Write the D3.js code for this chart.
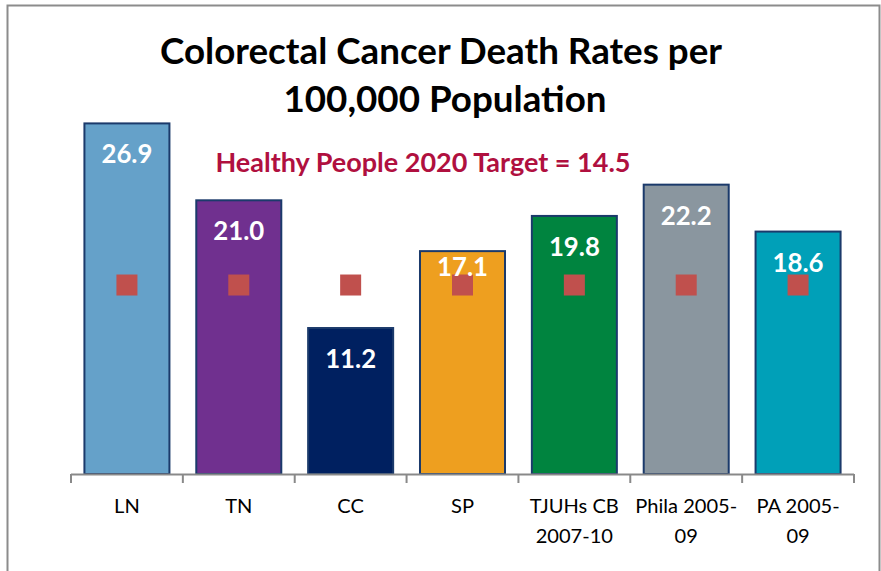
<!DOCTYPE html>
<html><head><meta charset="utf-8">
<script src="https://cdn.jsdelivr.net/npm/d3@7"></script>
<style>html,body{margin:0;padding:0;background:#fff;} svg{display:block;font-family:Lato,"Open Sans",sans-serif;}</style>
</head><body>
<script>
const categories = ["LN", "TN", "CC", "SP", "TJUHs CB 2007-10", "Phila 2005-09", "PA 2005-09"];
const labelLines = [["LN"], ["TN"], ["CC"], ["SP"], ["TJUHs CB", "2007-10"], ["Phila 2005-", "09"], ["PA 2005-", "09"]];
const values = [26.9, 21.0, 11.2, 17.1, 19.8, 22.2, 18.6];
const target = [14.5, 14.5, 14.5, 14.5, 14.5, 14.5, 14.5];
const colors = ["#65A1C9", "#70308F", "#002060", "#EE9F1F", "#00843F", "#8A969F", "#00A0B8"];
const titleLines = ["Colorectal Cancer Death Rates per", "100,000 Population"];
const targetText = "Healthy People 2020 Target = 14.5";

const W = 881, H = 571;
const svg = d3.select("body").append("svg").attr("width", W).attr("height", H);

// outer frame (no bottom edge visible)
svg.append("path").attr("d", "M7.5,571 V5.5 H879.5 V571")
  .attr("fill", "none").attr("stroke", "#8C8C8C").attr("stroke-width", 2);

const x = d3.scaleBand().domain(categories).range([71, 854]).padding(0);
const y = d3.scaleLinear().domain([0, 30]).range([474, 83]);
const bw = x.bandwidth();

function fit(sel, targetW) {
  const node = sel.node();
  const fs = parseFloat(sel.attr("font-size"));
  const w = node.getComputedTextLength();
  sel.attr("font-size", (fs * targetW / w).toFixed(2));
  return sel;
}

// bars
svg.selectAll("rect.bar").data(values).join("rect").attr("class", "bar")
  .attr("x", (d, i) => x(categories[i]) + bw * 0.12)
  .attr("width", bw * 0.76)
  .attr("y", d => y(d))
  .attr("height", d => y(0) - y(d))
  .attr("fill", (d, i) => colors[i])
  .attr("stroke", "#1B3A6B").attr("stroke-width", 2);

// target markers
const ms = 21;
svg.selectAll("rect.mk").data(target).join("rect").attr("class", "mk")
  .attr("x", (d, i) => x(categories[i]) + bw / 2 - ms / 2)
  .attr("y", d => y(d) - ms / 2)
  .attr("width", ms).attr("height", ms)
  .attr("fill", "#C0504D");

// value labels
const vl = svg.selectAll("text.val").data(values).join("text").attr("class", "val")
  .attr("x", (d, i) => x(categories[i]) + bw / 2)
  .attr("y", (d, i) => y(d) + (i === 3 ? 25 : 40))
  .attr("text-anchor", "middle").attr("fill", "#fff").attr("font-weight", "bold")
  .attr("font-size", 25)
  .text(d => d.toFixed(1));
// scale value label font to match reference width of "11.2" (~51px)
{
  const probe = svg.append("text").attr("font-weight", "bold").attr("font-size", 25).text("11.2");
  const w = probe.node().getComputedTextLength();
  probe.remove();
  vl.attr("font-size", (25 * 51 / w).toFixed(2));
}

// axis
const axis = svg.append("g");
axis.append("line").attr("x1", 71).attr("x2", 854).attr("y1", 474.5).attr("y2", 474.5)
  .attr("stroke", "#898989").attr("stroke-width", 2);
const tickPos = categories.map(c => x(c)).concat([x(categories[categories.length - 1]) + bw]);
axis.selectAll("line.tk").data(tickPos).join("line").attr("class", "tk")
  .attr("x1", d => d).attr("x2", d => d).attr("y1", 474).attr("y2", 483)
  .attr("stroke", "#898989").attr("stroke-width", 2);

// category labels
let catFs = 20;
{
  const probe = svg.append("text").attr("font-size", 20).text("TJUHs CB");
  const w = probe.node().getComputedTextLength();
  probe.remove();
  catFs = 20 * 89 / w;
}
labelLines.forEach((lines, i) => {
  const t = svg.append("text").attr("text-anchor", "middle").attr("fill", "#000")
    .attr("font-size", catFs.toFixed(2));
  lines.forEach((ln, j) => {
    t.append("tspan").attr("x", x(categories[i]) + bw / 2).attr("y", 513 + j * 30).text(ln);
  });
});

// title
const t1 = svg.append("text").attr("x", 441).attr("y", 64).attr("text-anchor", "middle")
  .attr("font-weight", "bold").attr("font-size", 34).attr("fill", "#000").text(titleLines[0]);
fit(t1, 562);
svg.append("text").attr("x", 445).attr("y", 112).attr("text-anchor", "middle")
  .attr("font-weight", "bold").attr("font-size", t1.attr("font-size")).attr("fill", "#000").text(titleLines[1]);

// target annotation
const ht = svg.append("text").attr("x", 423).attr("y", 172).attr("text-anchor", "middle")
  .attr("font-weight", "bold").attr("font-size", 26).attr("fill", "#B0103F").text(targetText);
fit(ht, 415);
</script>
</body></html>
